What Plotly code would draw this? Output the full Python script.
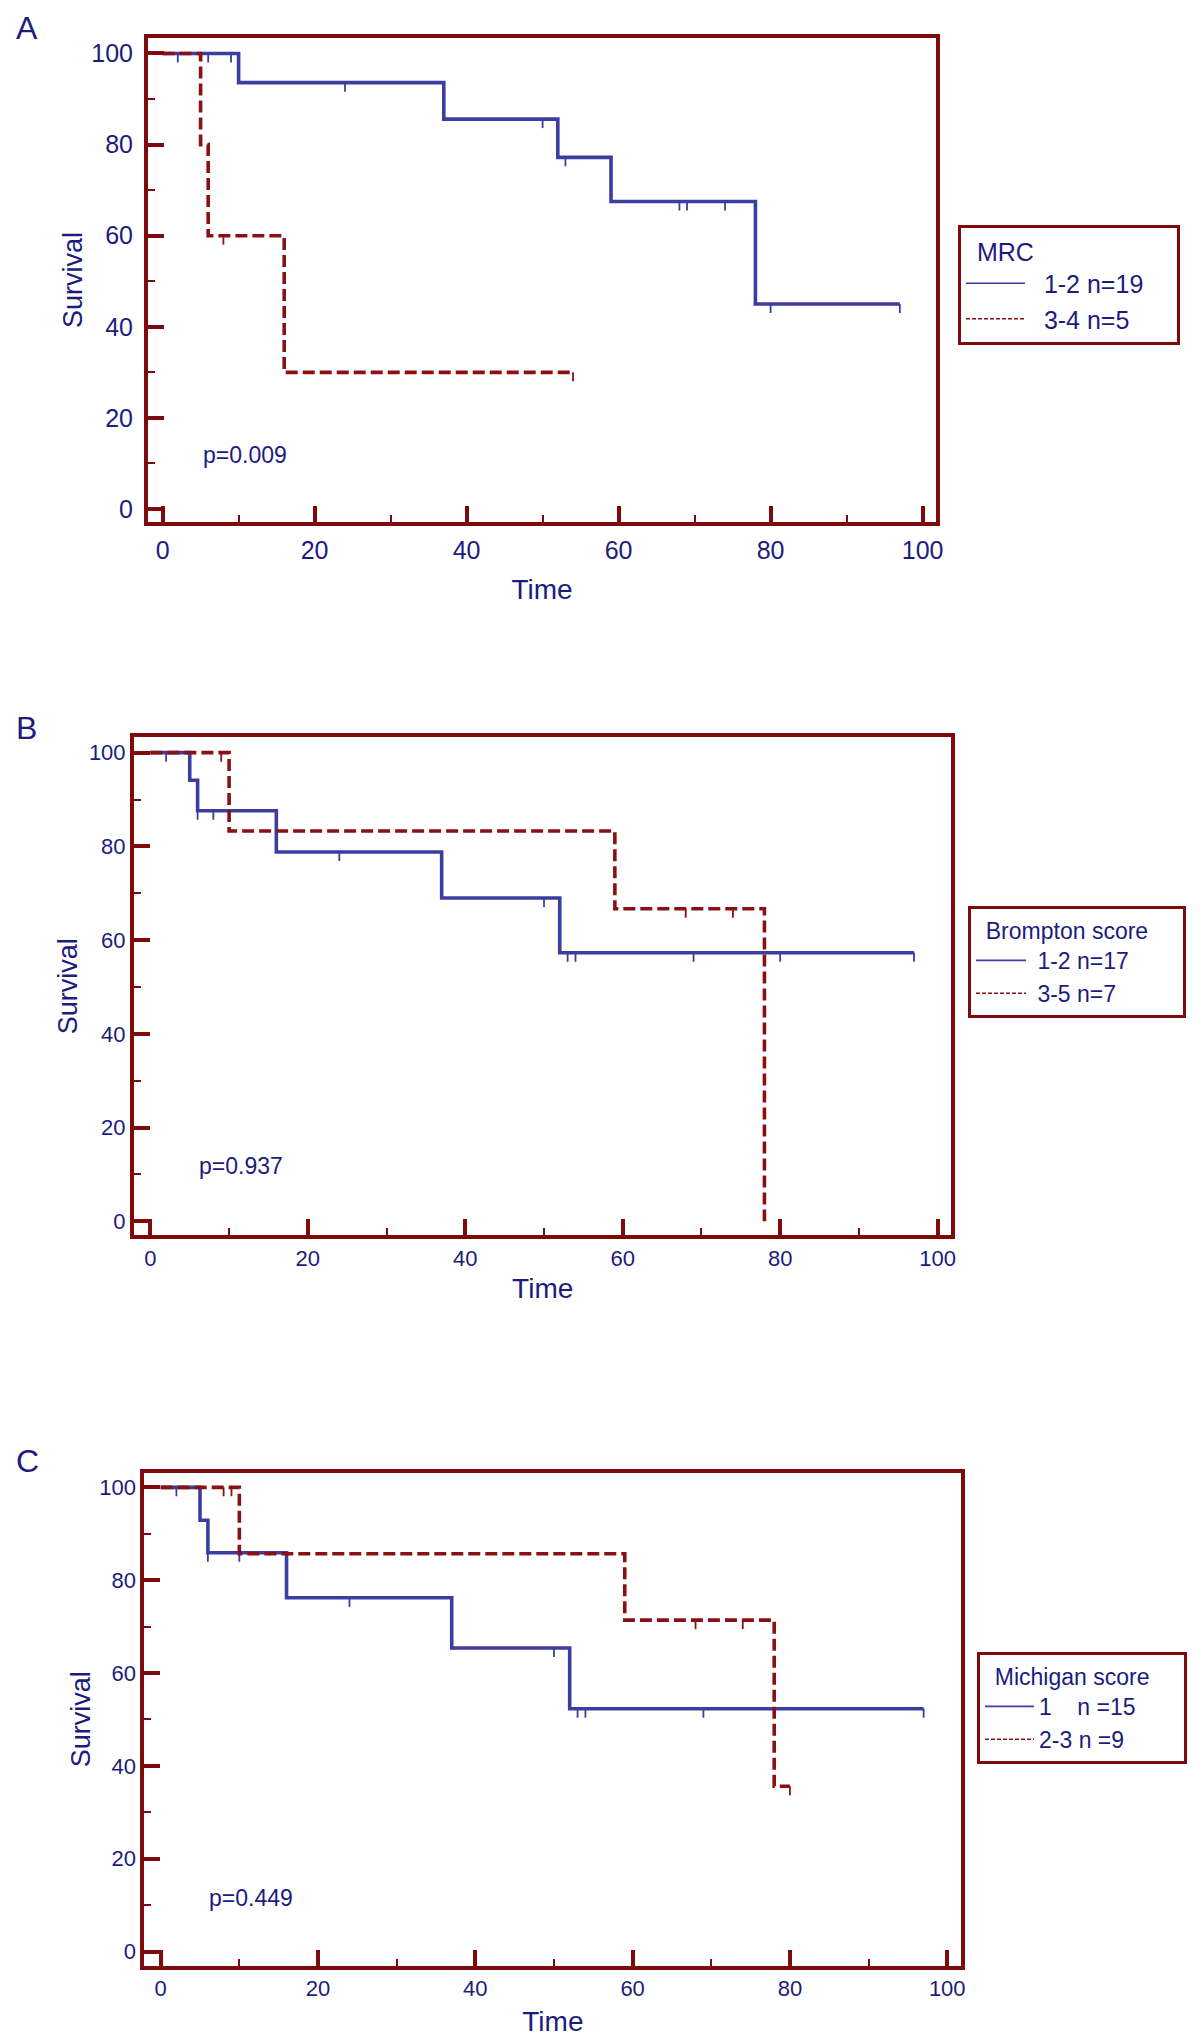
import plotly.graph_objects as go

W, H = 1200, 2043
FRAME = "#7d0b0b"
BLUE = "#3b3ea0"
RED = "#8a1111"
TEXT = "#1c1c7e"
FONT = "Liberation Sans, Arial, sans-serif"
NB = "\u00a0"

# ---------------- data ----------------
# Panel A : MRC
a_blue_time = [0, 10, 37, 52, 59, 78, 97]
a_blue_surv = [100, 93.6, 85.6, 77.2, 67.5, 45.0, 45.0]
a_blue_cens = [2, 6, 9, 24, 50, 53, 68, 69, 74, 80, 97]
a_red_time = [0, 5, 6, 16, 54]
a_red_surv = [100, 80, 60, 30, 30]
a_red_cens = [8, 54]

# Panel B : Brompton score
b_blue_time = [0, 5, 6, 16, 37, 52, 97]
b_blue_surv = [100, 94.1, 87.6, 78.8, 69.0, 57.3, 57.3]
b_blue_cens = [2, 6, 8, 24, 50, 53, 54, 69, 80, 97]
b_red_time = [0, 10, 59, 78]
b_red_surv = [100, 83.3, 66.7, 0]
b_red_cens = [9, 68, 74]

# Panel C : Michigan score
c_blue_time = [0, 5, 6, 16, 37, 52, 97]
c_blue_surv = [100, 92.9, 85.9, 76.2, 65.4, 52.3, 52.3]
c_blue_cens = [2, 6, 10, 24, 50, 53, 54, 69, 97]
c_red_time = [0, 10, 59, 78, 80]
c_red_surv = [100, 85.7, 71.4, 35.6, 35.6]
c_red_cens = [8, 9, 68, 74, 80]

tick_vals = [0, 20, 40, 60, 80, 100]
tick_text = ["0", "20", "40", "60", "80", "100"]

panels = [
    dict(letter="A", xa="x", ya="y", leg="legend",
         blue=(a_blue_time, a_blue_surv, a_blue_cens),
         red=(a_red_time, a_red_surv, a_red_cens),
         legtitle=NB * 2 + "MRC",
         names=(NB * 2 + "1-2 n=19" + NB * 4, NB * 2 + "3-4 n=5"),
         pval="p=0.009", pxy=(5.1, 11.8),
         px=(148, 936), py=(38, 522), xr=(-1.92, 101.76), yr=(-2.85, 103.4),
         tfs=25, lfs=25, itemw=59, ystd=6, xstd=3, ytso=2, xtso=17,
         legpos=(958, 225), letpos=(14, 28)),
    dict(letter="B", xa="x2", ya="y2", leg="legend2",
         blue=(b_blue_time, b_blue_surv, b_blue_cens),
         red=(b_red_time, b_red_surv, b_red_cens),
         legtitle=NB * 2 + "Brompton score" + NB * 5,
         names=(NB + "1-2 n=17", NB + "3-5 n=7"),
         pval="p=0.937", pxy=(5.9, 11.9),
         px=(134, 951.4), py=(737.2, 1235.4), xr=(-2.08, 101.75), yr=(-3.0, 103.3),
         tfs=22, lfs=23, itemw=50, ystd=0, xstd=0, ytso=4, xtso=10,
         legpos=(968, 906), letpos=(14, 728)),
    dict(letter="C", xa="x3", ya="y3", leg="legend3",
         blue=(c_blue_time, c_blue_surv, c_blue_cens),
         red=(c_red_time, c_red_surv, c_red_cens),
         legtitle=NB * 2 + "Michigan score" + NB * 5,
         names=("1" + NB * 4 + "n =15", "2-3 n =9"),
         pval="p=0.449", pxy=(5.85, 11.6),
         px=(144.4, 961.4), py=(1472.5, 1965.9), xr=(-2.07, 101.8), yr=(-3.1, 103.2),
         tfs=22, lfs=23, itemw=49, ystd=0, xstd=0, ytso=2, xtso=12,
         legpos=(977, 1652), letpos=(14, 1461)),
]


def step_at(times, surv, t):
    v = surv[0]
    for ti, si in zip(times, surv):
        if ti <= t:
            v = si
    return v


fig = go.Figure()
layout = dict(
    width=W, height=H, margin=dict(l=0, r=0, t=0, b=0, autoexpand=False),
    paper_bgcolor="white", plot_bgcolor="white",
    font=dict(family=FONT, color=TEXT), annotations=[],
)

for p in panels:
    xa, ya = p["xa"], p["ya"]
    ysuffix = ya[1:]
    xsuffix = xa[1:]
    ppu = (p["py"][1] - p["py"][0]) / (p["yr"][1] - p["yr"][0])
    cens_len = 9 / ppu

    for (times, surv, cens), color, dash, name in (
        (p["blue"], BLUE, "solid", p["names"][0]),
        (p["red"], RED, "12px,5px", p["names"][1]),
    ):
        fig.add_trace(go.Scatter(
            x=times, y=surv, mode="lines", line_shape="hv",
            line=dict(color=color, width=3.6, dash=dash),
            xaxis=xa, yaxis=ya, showlegend=False, hoverinfo="skip",
            legendgroup=p["leg"] + name))
        cx, cy = [], []
        for c in cens:
            s = step_at(times, surv, c)
            cx += [c, c, None]
            cy += [s, s - cens_len, None]
        fig.add_trace(go.Scatter(
            x=cx, y=cy, mode="lines", line=dict(color=color, width=1.8),
            xaxis=xa, yaxis=ya, showlegend=False, hoverinfo="skip",
            legendgroup=p["leg"] + name))
        # legend entry (thin sample line as in the original key)
        fig.add_trace(go.Scatter(
            x=[None], y=[None], mode="lines", name=name,
            line=dict(color=color, width=1.6,
                      dash="solid" if dash == "solid" else "4px,2px"),
            xaxis=xa, yaxis=ya, legend=p["leg"], showlegend=True,
            legendgroup=p["leg"] + name))

    common = dict(
        showline=True, linecolor=FRAME, linewidth=4, mirror=True,
        ticks="inside", ticklen=16, tickwidth=4, tickcolor=FRAME,
        tickvals=tick_vals, ticktext=tick_text,
        tickfont=dict(size=p["tfs"], color=TEXT, family=FONT),
        minor=dict(ticks="inside", ticklen=7, tickwidth=2, tickcolor=FRAME,
                   dtick=10, tick0=0, showgrid=False),
        showgrid=False, zeroline=False, fixedrange=True, automargin=False,
    )
    layout["xaxis" + xsuffix] = dict(
        common, domain=[p["px"][0] / W, p["px"][1] / W], range=list(p["xr"]),
        anchor=ya, ticklabelstandoff=p["xstd"],
        title=dict(text="Time", font=dict(size=28, color=TEXT), standoff=p["xtso"]))
    layout["yaxis" + ysuffix] = dict(
        common, domain=[1 - p["py"][1] / H, 1 - p["py"][0] / H], range=list(p["yr"]),
        anchor=xa, ticklabelstandoff=p["ystd"],
        title=dict(text="Survival", font=dict(size=27, color=TEXT), standoff=p["ytso"]))

    layout[p["leg"]] = dict(
        x=p["legpos"][0] / W, y=1 - p["legpos"][1] / H, xanchor="left", yanchor="top",
        xref="paper", yref="paper",
        bgcolor="white", bordercolor=FRAME, borderwidth=3,
        font=dict(size=p["lfs"], color=TEXT, family=FONT),
        title=dict(text=p["legtitle"], font=dict(size=p["lfs"], color=TEXT)),
        itemwidth=p["itemw"], tracegroupgap=0,
    )

    layout["annotations"].append(dict(
        text=p["letter"], x=p["letpos"][0] / W, y=1 - p["letpos"][1] / H,
        xref="paper", yref="paper", xanchor="left", yanchor="middle",
        showarrow=False, font=dict(size=32, color=TEXT, family=FONT)))
    layout["annotations"].append(dict(
        text=p["pval"], x=p["pxy"][0], y=p["pxy"][1], xref=xa, yref=ya,
        xanchor="left", yanchor="middle", showarrow=False,
        font=dict(size=23, color=TEXT, family=FONT)))

fig.update_layout(**layout)
fig.write_html("out.html",
               config={"displayModeBar": False, "staticPlot": False},
               post_script="document.body.style.margin='0px';"
                           "document.body.style.overflow='hidden';")
